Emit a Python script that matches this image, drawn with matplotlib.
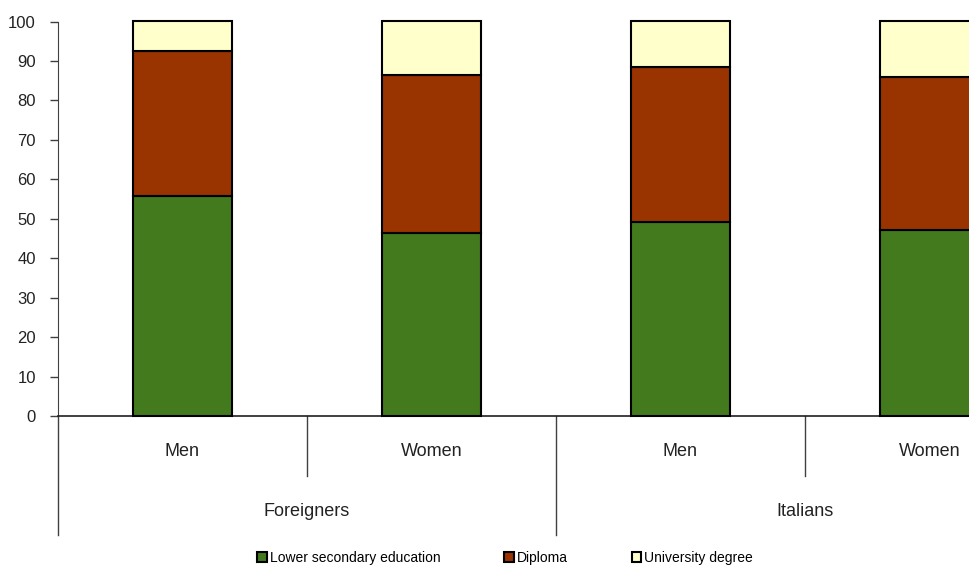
import matplotlib.pyplot as plt
import numpy as np

# data (percent)
groups = ['Foreigners', 'Italians']
sexes = ['Men', 'Women', 'Men', 'Women']
lower_secondary = [55.8, 46.5, 49.2, 47.1]
diploma = [36.8, 39.9, 39.3, 38.9]
university = [7.4, 13.6, 11.5, 14.0]
series_names = ['Lower secondary education', 'Diploma', 'University degree']
colors = ['#437a1e', '#993300', '#ffffcc']

plt.rcParams['font.family'] = ['Liberation Sans', 'DejaVu Sans']

fig = plt.figure(figsize=(9.7, 5.65), dpi=100)
# plot area runs off the right edge, as in the reference
ax = fig.add_axes([58 / 970, 149 / 565, 996 / 970, 394.5 / 565])

x = np.arange(len(sexes))
bottom = np.zeros(len(sexes))
for vals, name, col in zip([lower_secondary, diploma, university], series_names, colors):
    ax.bar(x, vals, width=0.4, bottom=bottom, color=col, edgecolor='black',
           linewidth=1.5, label=name, zorder=3, clip_on=False)
    bottom += np.array(vals)

ax.set_xlim(-0.5, len(sexes) - 0.5)
ax.set_ylim(0, 100)
ax.set_yticks(range(0, 101, 10))
ax.tick_params(axis='y', length=6, width=1, color='#404040', pad=10, labelsize=12,
               labelcolor='#222222')
ax.set_xticks([])

for s in ['top', 'right']:
    ax.spines[s].set_visible(False)
ax.spines['left'].set_color('#404040')
ax.spines['bottom'].set_color('#202020')
ax.spines['bottom'].set_linewidth(1.2)

trans = ax.get_xaxis_transform()
# separators between sexes and between groups
for xs in [0.5, 2.5]:
    ax.plot([xs, xs], [0, -0.152], transform=trans, color='#404040', lw=1, clip_on=False)
for xs in [-0.5, 1.5]:
    ax.plot([xs, xs], [0, -0.302], transform=trans, color='#404040', lw=1, clip_on=False)

for xi, lab in zip(x, sexes):
    ax.text(xi, -0.091, lab, transform=trans, ha='center', va='center', fontsize=13,
            color='#222222')
for gi, g in enumerate(groups):
    ax.text(gi * 2 + 0.5, -0.241, g, transform=trans, ha='center', va='center',
            fontsize=13, color='#222222')

fig.legend(loc='center', bbox_to_anchor=(505 / 970, 7 / 565), ncol=3, frameon=False,
           fontsize=10, handlelength=0.7, handleheight=0.7, handletextpad=0.2,
           columnspacing=4.6)

fig.savefig('out.png', dpi=100)
